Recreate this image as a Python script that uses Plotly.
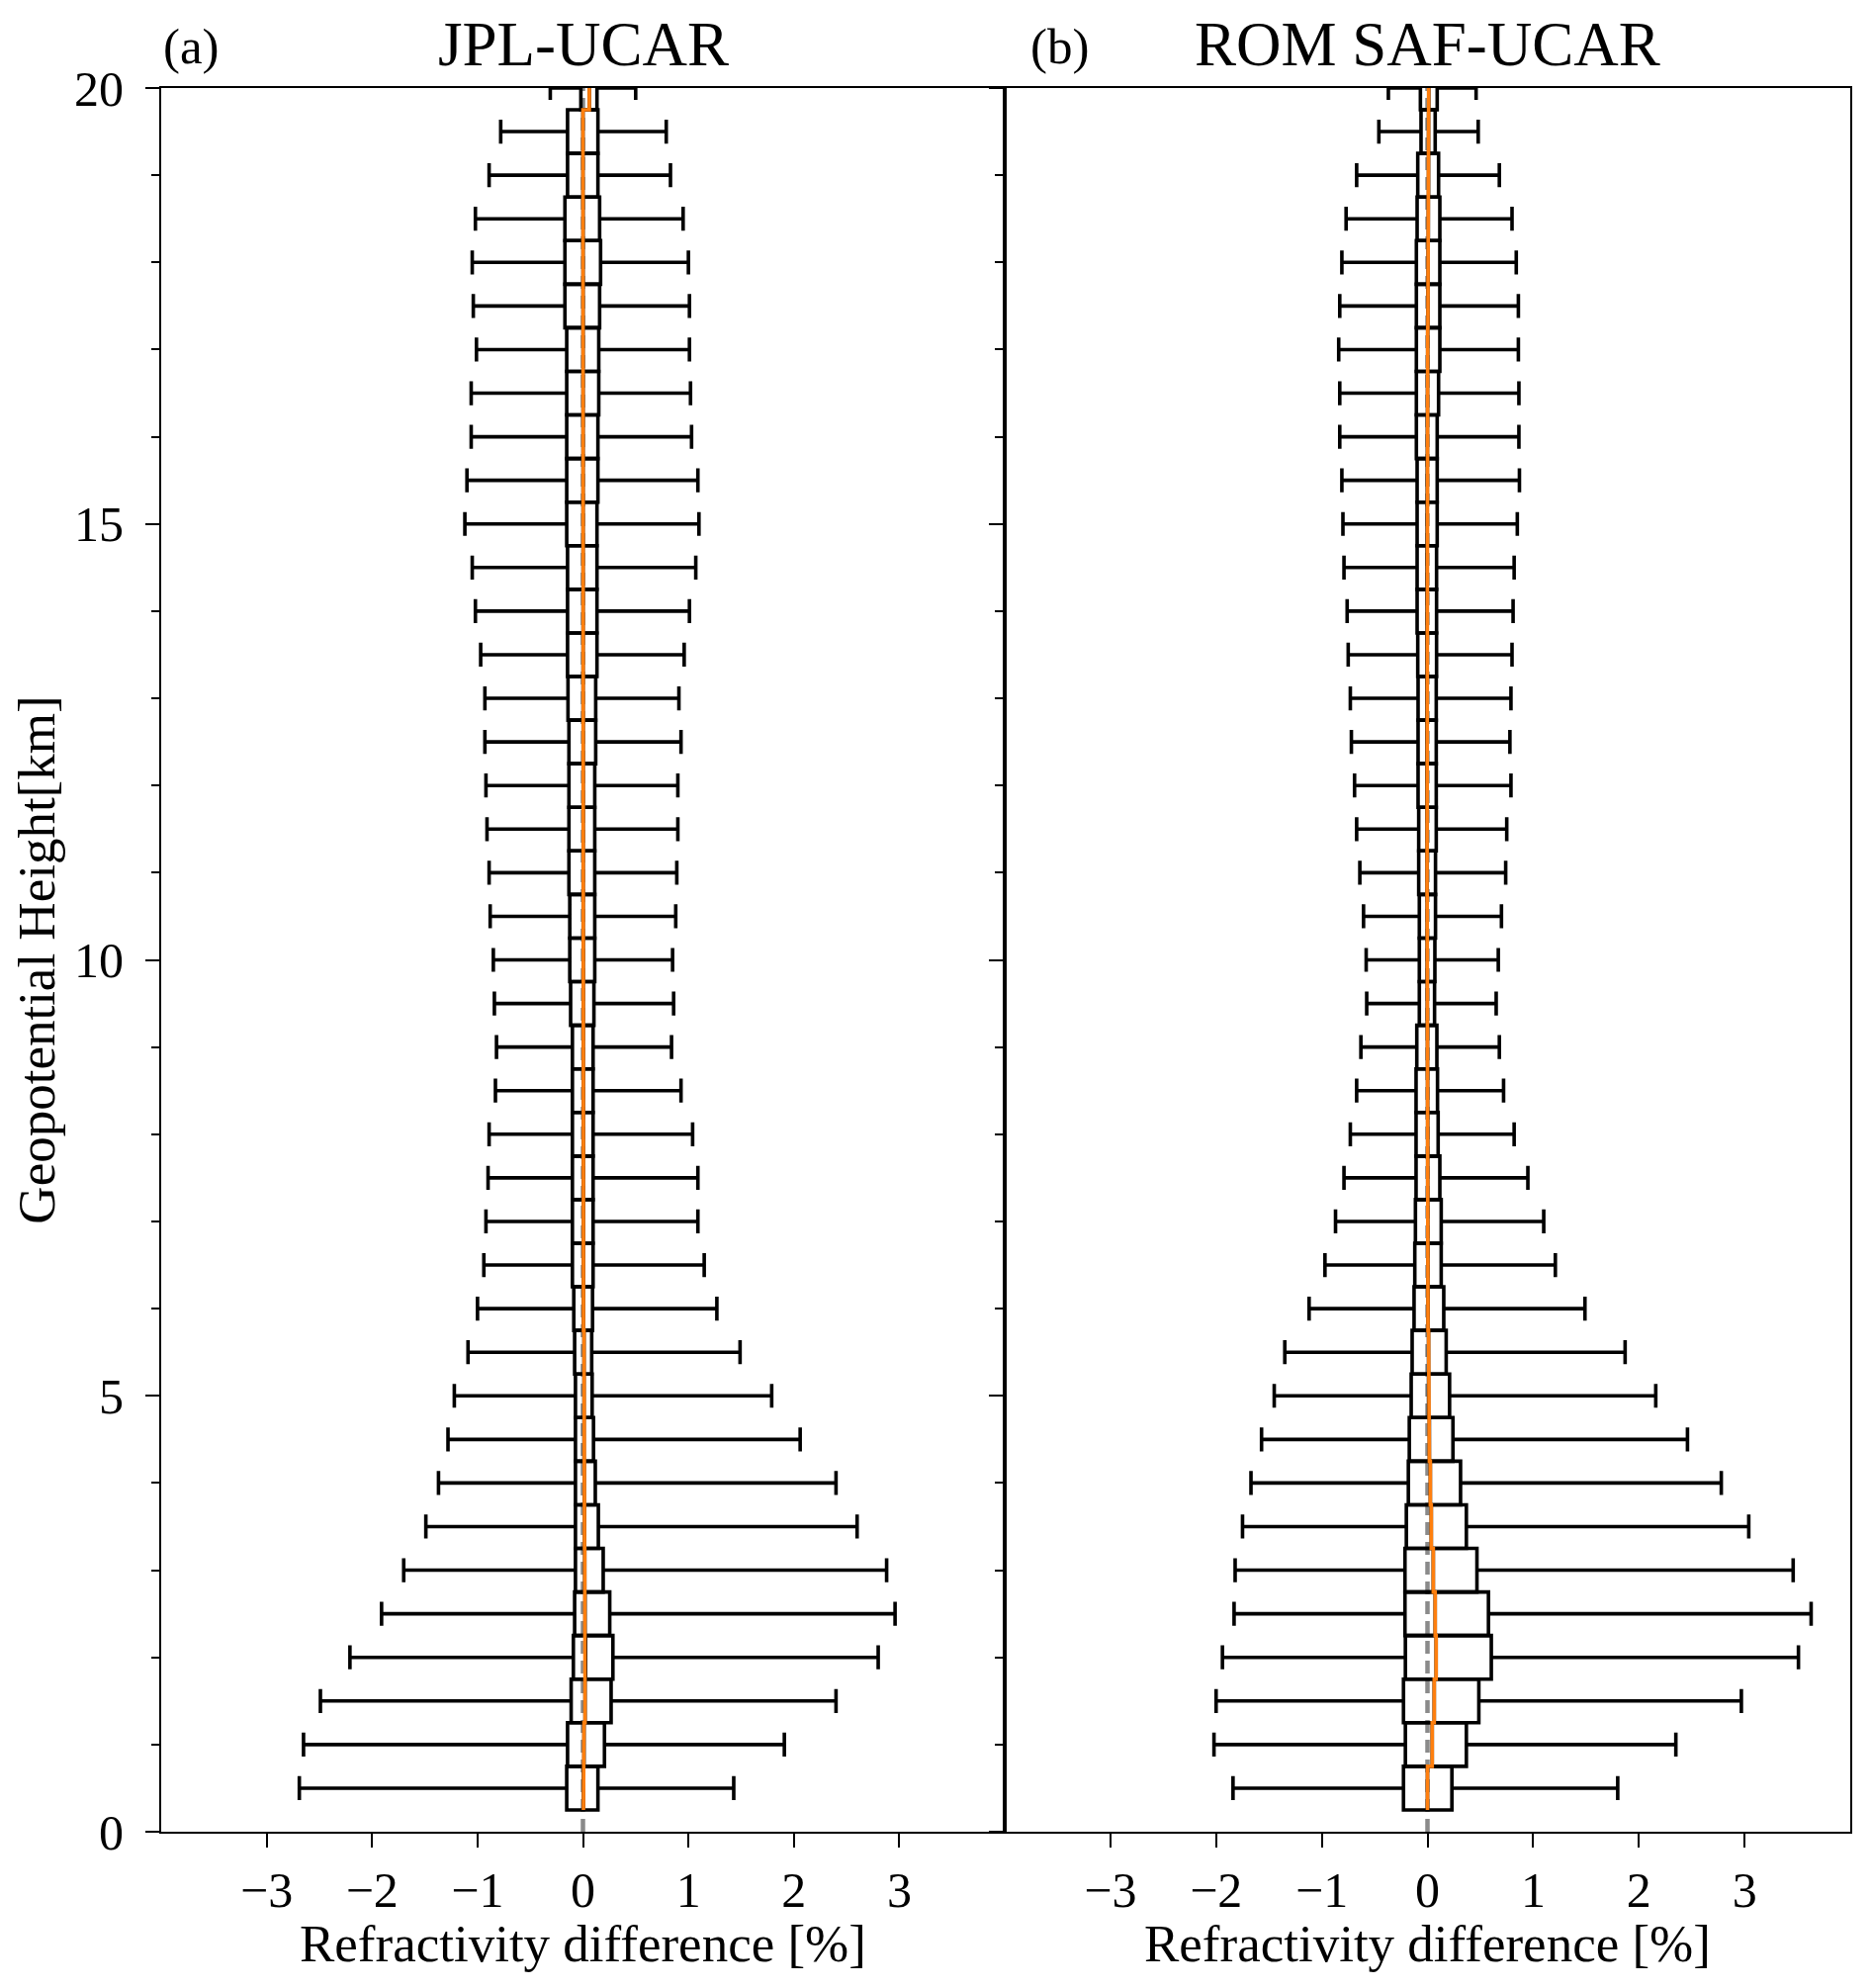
import plotly.graph_objects as go

# height levels of the boxes [km]
heights = [0.5, 1.0, 1.5, 2.0, 2.5, 3.0, 3.5, 4.0, 4.5, 5.0,
           5.5, 6.0, 6.5, 7.0, 7.5, 8.0, 8.5, 9.0, 9.5, 10.0,
           10.5, 11.0, 11.5, 12.0, 12.5, 13.0, 13.5, 14.0, 14.5, 15.0,
           15.5, 16.0, 16.5, 17.0, 17.5, 18.0, 18.5, 19.0, 19.5, 20.0]

# (a) JPL-UCAR box statistics [%]
jpl_low = [-2.69, -2.65, -2.49, -2.21, -1.91, -1.70, -1.49, -1.37, -1.28, -1.22,
           -1.09, -1.00, -0.94, -0.92, -0.90, -0.89, -0.83, -0.82, -0.84, -0.85,
           -0.88, -0.89, -0.91, -0.92, -0.93, -0.93, -0.97, -1.02, -1.05, -1.12,
           -1.10, -1.06, -1.06, -1.01, -1.04, -1.05, -1.02, -0.89, -0.78, -0.31]
jpl_q1 = [-0.154, -0.146, -0.112, -0.091, -0.079, -0.071, -0.071, -0.071, -0.071, -0.071,
          -0.079, -0.087, -0.100, -0.100, -0.100, -0.100, -0.100, -0.100, -0.117, -0.125,
          -0.125, -0.133, -0.133, -0.133, -0.133, -0.142, -0.146, -0.146, -0.146, -0.154,
          -0.154, -0.154, -0.154, -0.154, -0.171, -0.171, -0.171, -0.146, -0.146, -0.020]
jpl_med = [0.005, 0.010, 0.020, 0.025, 0.020, 0.017, 0.015, 0.012, 0.010, 0.010,
           0.010, 0.005, 0.005, 0.005, 0.004, 0.004, 0.004, 0.003, 0.003, 0.003,
           0.002, 0.002, 0.002, 0.002, 0.002, 0.001, 0.001, 0.001, 0.001, 0.001,
           0.001, 0.001, 0.001, 0.001, 0.001, 0.001, 0.001, 0.000, 0.000, 0.060]
jpl_q3 = [0.142, 0.204, 0.267, 0.284, 0.254, 0.192, 0.146, 0.117, 0.100, 0.087,
          0.083, 0.091, 0.096, 0.096, 0.096, 0.096, 0.096, 0.096, 0.104, 0.112,
          0.112, 0.112, 0.112, 0.112, 0.121, 0.121, 0.133, 0.133, 0.133, 0.133,
          0.142, 0.142, 0.150, 0.150, 0.158, 0.167, 0.158, 0.142, 0.142, 0.133]
jpl_high = [1.43, 1.91, 2.40, 2.80, 2.96, 2.88, 2.60, 2.40, 2.06, 1.79,
            1.49, 1.27, 1.15, 1.09, 1.09, 1.04, 0.93, 0.84, 0.86, 0.85,
            0.88, 0.89, 0.90, 0.90, 0.93, 0.91, 0.96, 1.01, 1.07, 1.10,
            1.09, 1.03, 1.02, 1.01, 1.01, 1.00, 0.95, 0.83, 0.79, 0.50]

# (b) ROM SAF-UCAR box statistics [%]
rom_low = [-1.84, -2.02, -2.00, -1.94, -1.83, -1.82, -1.75, -1.67, -1.57, -1.45,
           -1.35, -1.12, -0.97, -0.87, -0.79, -0.73, -0.67, -0.63, -0.575, -0.58,
           -0.605, -0.64, -0.67, -0.69, -0.72, -0.73, -0.75, -0.76, -0.79, -0.80,
           -0.81, -0.83, -0.83, -0.84, -0.83, -0.81, -0.77, -0.67, -0.46, -0.37]
rom_q1 = [-0.227, -0.209, -0.227, -0.209, -0.213, -0.213, -0.200, -0.181, -0.172, -0.154,
          -0.145, -0.127, -0.120, -0.114, -0.108, -0.108, -0.108, -0.101, -0.077, -0.077,
          -0.077, -0.083, -0.083, -0.089, -0.089, -0.089, -0.092, -0.098, -0.098, -0.098,
          -0.098, -0.105, -0.105, -0.105, -0.105, -0.105, -0.098, -0.092, -0.061, -0.067]
rom_med = [0.000, 0.045, 0.064, 0.082, 0.073, 0.055, 0.036, 0.027, 0.018, 0.010,
           0.010, 0.005, 0.004, 0.003, 0.002, 0.002, 0.001, 0.000, -0.002, -0.003,
           -0.003, -0.004, -0.004, -0.005, -0.005, -0.005, -0.005, -0.004, -0.004, -0.003,
           -0.002, -0.001, 0.000, 0.002, 0.004, 0.006, 0.008, 0.010, 0.010, 0.012]
rom_q3 = [0.231, 0.368, 0.486, 0.604, 0.577, 0.468, 0.368, 0.313, 0.241, 0.209,
          0.177, 0.154, 0.130, 0.130, 0.117, 0.101, 0.095, 0.089, 0.067, 0.070,
          0.076, 0.076, 0.083, 0.083, 0.083, 0.083, 0.086, 0.086, 0.086, 0.092,
          0.092, 0.092, 0.105, 0.117, 0.117, 0.117, 0.117, 0.105, 0.073, 0.092]
rom_high = [1.80, 2.35, 2.97, 3.51, 3.63, 3.46, 3.04, 2.78, 2.46, 2.16,
            1.87, 1.49, 1.21, 1.10, 0.95, 0.82, 0.72, 0.68, 0.65, 0.67,
            0.70, 0.74, 0.75, 0.79, 0.78, 0.79, 0.80, 0.81, 0.82, 0.85,
            0.87, 0.865, 0.865, 0.86, 0.86, 0.84, 0.80, 0.68, 0.48, 0.46]

panel_titles = ['JPL-UCAR', 'ROM SAF-UCAR']
panel_tags = ['(a)', '(b)']
x_ticks = [-3, -2, -1, 0, 1, 2, 3]
x_title = 'Refractivity difference [%]'
y_title = 'Geopotential Height[km]'

FONT = 'Liberation Serif'
BOX_WIDTH = 0.5  # km

# figure is 16px smaller than the window so the page (8px body margin) fits without scrollbars
FIG_W, FIG_H = 1876, 1994
X_DOMAINS = [[155 / FIG_W, 1008 / FIG_W], [1008 / FIG_W, 1863 / FIG_W]]
Y_DOMAIN = [1 - 1844 / FIG_H, 1 - 81 / FIG_H]


def add_panel(fig, idx, low, q1, med, q3, high):
    """add boxes + orange median segments for one panel"""
    xa = 'x' if idx == 0 else 'x%d' % (idx + 1)
    ya = 'y' if idx == 0 else 'y%d' % (idx + 1)

    fig.add_trace(go.Box(
        y=heights, q1=q1, median=med, q3=q3, lowerfence=low, upperfence=high,
        orientation='h', width=BOX_WIDTH, whiskerwidth=0.55, boxpoints=False,
        line=dict(color='black', width=3.6), fillcolor='rgba(0,0,0,0)',
        showlegend=False, xaxis=xa, yaxis=ya,
    ))

    # median drawn as orange segment spanning each box
    mx, my = [], []
    for h, m in zip(heights, med):
        mx += [m, m]
        my += [h - BOX_WIDTH / 2, h + BOX_WIDTH / 2]
    fig.add_trace(go.Scatter(
        x=mx, y=my, mode='lines', line=dict(color='#ff7f0e', width=3.6),
        showlegend=False, xaxis=xa, yaxis=ya,
    ))


fig = go.Figure()
add_panel(fig, 0, jpl_low, jpl_q1, jpl_med, jpl_q3, jpl_high)
add_panel(fig, 1, rom_low, rom_q1, rom_med, rom_q3, rom_high)

# automargin off so the plot area stays exactly where the domains put it
axis_common = dict(
    showline=True, linecolor='black', linewidth=2, mirror=True, automargin=False,
    showgrid=False, zeroline=False, ticks='outside', ticklen=14, tickwidth=2,
    tickcolor='black', tickfont=dict(family=FONT, size=50, color='black'),
)

for i in range(2):
    sfx = '' if i == 0 else str(i + 1)
    fig.update_layout({
        'xaxis' + sfx: dict(
            axis_common, domain=X_DOMAINS[i], range=[-4, 4],
            tickmode='array', tickvals=x_ticks, anchor='y' + sfx,
            ticklabelstandoff=0,
        ),
        'yaxis' + sfx: dict(
            axis_common, domain=Y_DOMAIN, range=[0, 20], anchor='x' + sfx,
            tickmode='linear', tick0=0, dtick=5, showticklabels=(i == 0),
            ticklabelstandoff=12,
            minor=dict(ticks='outside', ticklen=8, tickwidth=2, tickcolor='black',
                       tick0=0, dtick=1, showgrid=False),
            title=dict(text=y_title if i == 0 else '', standoff=14,
                       font=dict(family=FONT, size=53, color='black')),
        ),
    })

    # gray dashed zero line under the boxes
    fig.add_shape(type='line', xref='x' + sfx, yref='y' + sfx + ' domain',
                  x0=0, x1=0, y0=0, y1=1, layer='below',
                  line=dict(color='#8a8a8a', width=4.5, dash='13px,7px'))

    # panel title, tag and x axis label
    xc = (X_DOMAINS[i][0] + X_DOMAINS[i][1]) / 2
    fig.add_annotation(text=panel_titles[i], xref='paper', yref='paper',
                       x=xc, y=1 - 37 / FIG_H, xanchor='center', yanchor='middle',
                       showarrow=False, font=dict(family=FONT, size=63, color='black'))
    fig.add_annotation(text=panel_tags[i], xref='paper', yref='paper',
                       x=X_DOMAINS[i][0] + (0 if i == 0 else 24 / FIG_W),
                       y=1 - 39 / FIG_H, xanchor='left', yanchor='middle',
                       showarrow=False, font=dict(family=FONT, size=51, color='black'))
    fig.add_annotation(text=x_title, xref='paper', yref='paper',
                       x=xc, y=1 - 1957 / FIG_H, xanchor='center', yanchor='middle',
                       showarrow=False, font=dict(family=FONT, size=53, color='black'))

fig.update_layout(
    width=FIG_W, height=FIG_H,
    margin=dict(l=0, r=0, t=0, b=0, autoexpand=False),
    paper_bgcolor='white', plot_bgcolor='white',
    font=dict(family=FONT, color='black'),
)

fig.write_html('out.html')
